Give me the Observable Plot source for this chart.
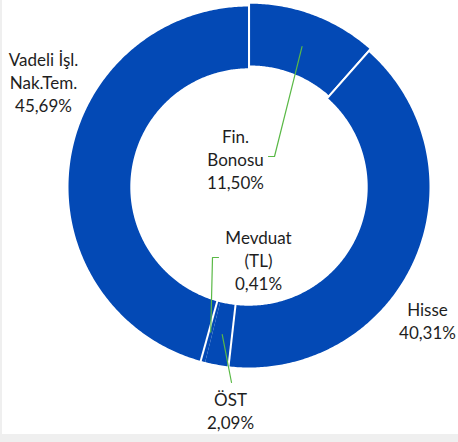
<!DOCTYPE html>
<html><head><meta charset="utf-8">
<script src="https://cdn.jsdelivr.net/npm/d3@7"></script>
<script src="https://cdn.jsdelivr.net/npm/@observablehq/plot@0.6"></script>
<style>
body{margin:0;background:#efefef;}
#chart{position:absolute;left:2px;top:0;width:456px;height:434px;background:#fff;overflow:hidden;}
#chart svg{display:block;}
</style></head><body><div id="chart"></div>
<script>
// Data (clockwise from 12 o'clock)
const categories = ["Fin. Bonosu", "Hisse", "ÖST", "Mevduat (TL)", "Vadeli İşl. Nak.Tem."];
const values = [11.50, 40.31, 2.09, 0.41, 45.69];
const labelTexts = ["Fin.\nBonosu\n11,50%", "Hisse\n40,31%", "ÖST\n2,09%", "Mevduat\n(TL)\n0,41%", "Vadeli İşl.\nNak.Tem.\n45,69%"];
// label anchors (chart units, centre of donut = 0,0)
const labelX = [-13.5, 178.5, -18.5, 9.5, -205.5];
const labelY = [-28.5, 133, 223, 72.5, -105.5];
// leader-line elbows toward labels (null = no leader)
const leaderEnds = [[[25.5, -30.5], [19.5, -30.5]], null, [[-17.5, 195.5]], [[-36.5, 70.5], [-30.5, 70.5]], null];

const W = 456, H = 434, CX = 246.5, CY = 186.5;
const R_OUT = 180.5, R_IN = 118.7, R_LEAD = 150;
const EXPLODE = [3, 0, 0, 0, 0];
const BLUE = "#0349b5", GREEN = "#5ab946";

const arcs = d3.pie().sort(null).value(d => d)(values);
const pt = (a, r) => [r * Math.sin(a), -r * Math.cos(a)];

const polys = [];
arcs.forEach((arc, i) => {
  const mid = (arc.startAngle + arc.endAngle) / 2;
  const [ox, oy] = pt(mid, EXPLODE[i]);
  const n = Math.max(2, Math.ceil((arc.endAngle - arc.startAngle) / 0.01));
  const ring = [];
  for (let k = 0; k <= n; k++) ring.push(pt(arc.startAngle + (arc.endAngle - arc.startAngle) * k / n, R_OUT));
  for (let k = n; k >= 0; k--) ring.push(pt(arc.startAngle + (arc.endAngle - arc.startAngle) * k / n, R_IN));
  ring.push(ring[0]);
  ring.forEach(([x, y]) => polys.push({cat: categories[i], x: x + ox, y: y + oy}));
});

// white separators between slices (skip boundary in front of a sliver)
const seps = [];
arcs.forEach((arc, i) => {
  const next = (i + 1) % arcs.length;
  if (values[next] < 1) return;
  const [x1, y1] = pt(arc.endAngle, R_IN - 3);
  const [x2, y2] = pt(arc.endAngle, R_OUT + 6);
  seps.push({x1, y1, x2, y2});
});

const leaders = [];
arcs.forEach((arc, i) => {
  if (!leaderEnds[i]) return;
  const mid = (arc.startAngle + arc.endAngle) / 2;
  const [sx, sy] = pt(mid, R_LEAD);
  leaders.push({cat: categories[i], x: sx, y: sy});
  leaderEnds[i].forEach(([x, y]) => leaders.push({cat: categories[i], x, y}));
});

const labels = categories.map((c, i) => ({text: labelTexts[i], x: labelX[i], y: labelY[i]}));

const chart = Plot.plot({
  width: W, height: H,
  marginTop: 0, marginRight: 0, marginBottom: 0, marginLeft: 0,
  x: {domain: [-CX, W - CX], range: [0, W], axis: null},
  y: {domain: [-CY, H - CY], range: [0, H], axis: null},
  style: {background: "transparent"},
  marks: [
    Plot.line(polys, {x: "x", y: "y", z: "cat", fill: BLUE, stroke: "none", curve: "linear"}),
    Plot.link(seps, {x1: "x1", y1: "y1", x2: "x2", y2: "y2", stroke: "white", strokeWidth: 2}),
    Plot.line(leaders, {x: "x", y: "y", z: "cat", stroke: GREEN, strokeWidth: 1.2, curve: "linear"}),
    Plot.text(labels, {x: "x", y: "y", text: "text", fontSize: 17, lineHeight: 1.38, fill: "#1e1e1e",
      fontFamily: "Lato, 'Open Sans', sans-serif", textAnchor: "middle", lineAnchor: "middle"})
  ]
});
document.getElementById("chart").appendChild(chart);
</script>
</body></html>
